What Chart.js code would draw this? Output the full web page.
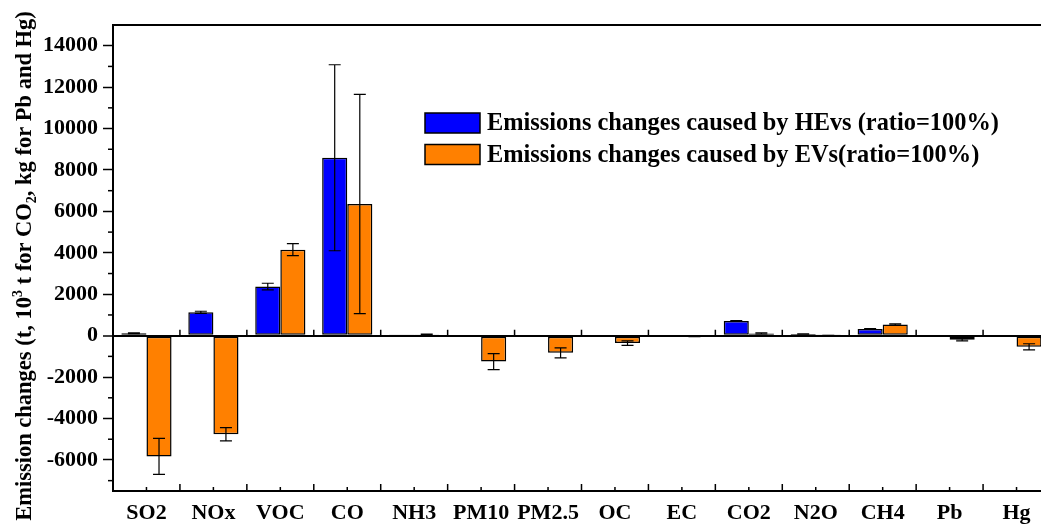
<!DOCTYPE html>
<html>
<head>
<meta charset="utf-8">
<script src="https://cdn.jsdelivr.net/npm/chart.js@4/dist/chart.umd.min.js"></script>
<style>
  html, body { margin: 0; padding: 0; overflow: hidden; background: #fff; }
  #wrap { width: 1062px; height: 525px; }
</style>
</head>
<body>
<div id="wrap"><canvas id="emissionChart"></canvas></div>
<script>
const categories = ['SO2', 'NOx', 'VOC', 'CO', 'NH3', 'PM10', 'PM2.5', 'OC', 'EC', 'CO2', 'N2O', 'CH4', 'Pb', 'Hg'];
const hevValues = [120, 1130, 2370, 8590, 15, 0, 0, 0, 0, 710, 80, 325, 0, 0];
const hevErrors = [20, 50, 160, 4490, 0, 0, 0, 0, 0, 20, 10, 20, 0, 0];
const evValues = [-5830, -4760, 4150, 6355, 60, -1250, -830, -360, -40, 110, 10, 545, -200, -540];
const evErrors = [870, 320, 290, 5295, 10, 385, 240, 110, 10, 30, 5, 30, 50, 150];
const yTickValues = [-6000, -4000, -2000, 0, 2000, 4000, 6000, 8000, 10000, 12000, 14000];
const yMinorTicks = [-7000, -5000, -3000, -1000, 1000, 3000, 5000, 7000, 9000, 11000, 13000];
const seriesLabels = ['Emissions changes caused by HEvs (ratio=100%)', 'Emissions changes caused by EVs(ratio=100%)'];
const errorSets = [hevErrors, evErrors];

const serif = "'Liberation Serif', 'Times New Roman', serif";

// axis frame: top line, minor ticks, inward category ticks
const framePlugin = {
  id: 'frame',
  afterDraw(chart) {
    const { ctx, chartArea: a, scales: { x, y } } = chart;
    ctx.save();
    ctx.strokeStyle = '#000';
    ctx.lineWidth = 2;
    ctx.beginPath();
    ctx.moveTo(a.left, a.top);
    ctx.lineTo(a.right, a.top);
    ctx.stroke();

    ctx.lineWidth = 1.5;
    yMinorTicks.forEach(v => {
      const py = y.getPixelForValue(v);
      ctx.beginPath();
      ctx.moveTo(a.left - 5, py);
      ctx.lineTo(a.left, py);
      ctx.stroke();
    });

    const zero = y.getPixelForValue(0);
    const half = (x.getPixelForValue(1) - x.getPixelForValue(0)) / 2;
    for (let i = 0; i < categories.length; i++) {
      const cx = x.getPixelForValue(i);
      const bx = cx + half;
      ctx.beginPath();
      ctx.moveTo(bx, a.bottom); ctx.lineTo(bx, a.bottom - 7);
      ctx.moveTo(cx, a.bottom); ctx.lineTo(cx, a.bottom - 4);
      ctx.moveTo(bx, zero); ctx.lineTo(bx, zero - 6);
      ctx.stroke();
    }
    ctx.restore();
  }
};

const errorBarPlugin = {
  id: 'errorBars',
  afterDatasetsDraw(chart) {
    const { ctx, scales: { y } } = chart;
    ctx.save();
    ctx.strokeStyle = '#000';
    ctx.lineWidth = 1.2;
    chart.data.datasets.forEach((ds, d) => {
      const meta = chart.getDatasetMeta(d);
      meta.data.forEach((bar, i) => {
        const e = errorSets[d][i];
        if (!e) return;
        const v = ds.data[i];
        const y1 = y.getPixelForValue(v + e);
        const y2 = y.getPixelForValue(v - e);
        ctx.beginPath();
        ctx.moveTo(bar.x, y1); ctx.lineTo(bar.x, y2);
        ctx.moveTo(bar.x - 6, y1); ctx.lineTo(bar.x + 6, y1);
        ctx.moveTo(bar.x - 6, y2); ctx.lineTo(bar.x + 6, y2);
        ctx.stroke();
      });
    });
    ctx.restore();
  }
};

const legendPlugin = {
  id: 'boxLegend',
  afterDraw(chart) {
    const { ctx } = chart;
    ctx.save();
    ctx.font = 'bold 24.4px ' + serif;
    ctx.textBaseline = 'middle';
    chart.data.datasets.forEach((ds, d) => {
      const top = 113 + d * 31.5;
      ctx.fillStyle = ds.backgroundColor;
      ctx.fillRect(425, top, 55, 20);
      ctx.strokeStyle = '#000';
      ctx.lineWidth = 1.5;
      ctx.strokeRect(425, top, 55, 20);
      ctx.fillStyle = '#000';
      ctx.fillText(ds.label, 487, top + 11);
    });
    ctx.restore();
  }
};

const yTitlePlugin = {
  id: 'yTitle',
  afterDraw(chart) {
    const { ctx } = chart;
    const parts = [
      { t: 'Emission changes (t, 10', size: 22.5, dy: 0 },
      { t: '3', size: 14, dy: -9 },
      { t: ' t for CO', size: 22.5, dy: 0 },
      { t: '2', size: 14, dy: 5 },
      { t: ', kg for Pb and Hg)', size: 22.5, dy: 0 }
    ];
    ctx.save();
    let total = 0;
    parts.forEach(p => {
      ctx.font = `bold ${p.size}px ${serif}`;
      p.w = ctx.measureText(p.t).width;
      total += p.w;
    });
    ctx.translate(31, 266);
    ctx.rotate(-Math.PI / 2);
    ctx.fillStyle = '#000';
    ctx.textBaseline = 'alphabetic';
    let px = -total / 2;
    parts.forEach(p => {
      ctx.font = `bold ${p.size}px ${serif}`;
      ctx.fillText(p.t, px, p.dy);
      px += p.w;
    });
    ctx.restore();
  }
};

new Chart(document.getElementById('emissionChart'), {
  type: 'bar',
  data: {
    labels: categories,
    datasets: [
      {
        label: seriesLabels[0],
        data: hevValues,
        backgroundColor: '#0000ff',
        borderColor: '#000',
        borderWidth: 1.5,
        borderSkipped: false
      },
      {
        label: seriesLabels[1],
        data: evValues,
        backgroundColor: '#ff8000',
        borderColor: '#000',
        borderWidth: 1.5,
        borderSkipped: false
      }
    ]
  },
  options: {
    responsive: true,
    maintainAspectRatio: false,
    animation: false,
    layout: { padding: { top: 25, right: 12, left: 0, bottom: 0 } },
    datasets: {
      bar: { barPercentage: 1.0, categoryPercentage: 0.75 }
    },
    plugins: {
      legend: { display: false },
      tooltip: { enabled: false }
    },
    scales: {
      x: {
        afterFit(scale) { scale.height = 34; },
        grid: { display: false, drawTicks: false },
        border: { display: true, color: '#000', width: 2 },
        ticks: {
          color: '#000',
          padding: 9,
          maxRotation: 0,
          autoSkip: false,
          font: { family: serif, size: 22, weight: 'bold' }
        }
      },
      y: {
        min: -7500,
        max: 15000,
        afterFit(scale) { scale.width = 113; },
        afterBuildTicks(scale) {
          scale.ticks = yTickValues.map(v => ({ value: v }));
        },
        grid: {
          color: c => (c.tick && c.tick.value === 0 ? '#000' : 'rgba(0,0,0,0)'),
          lineWidth: c => (c.tick && c.tick.value === 0 ? 2 : 1),
          tickColor: '#000',
          tickLength: 10,
          tickWidth: 1.5
        },
        border: { display: true, color: '#000', width: 2 },
        ticks: {
          color: '#000',
          padding: 5,
          callback(value) {
            return String(value);
          },
          font: { family: serif, size: 22, weight: 'bold' }
        }
      }
    }
  },
  plugins: [framePlugin, errorBarPlugin, legendPlugin, yTitlePlugin]
});
</script>
</body>
</html>
